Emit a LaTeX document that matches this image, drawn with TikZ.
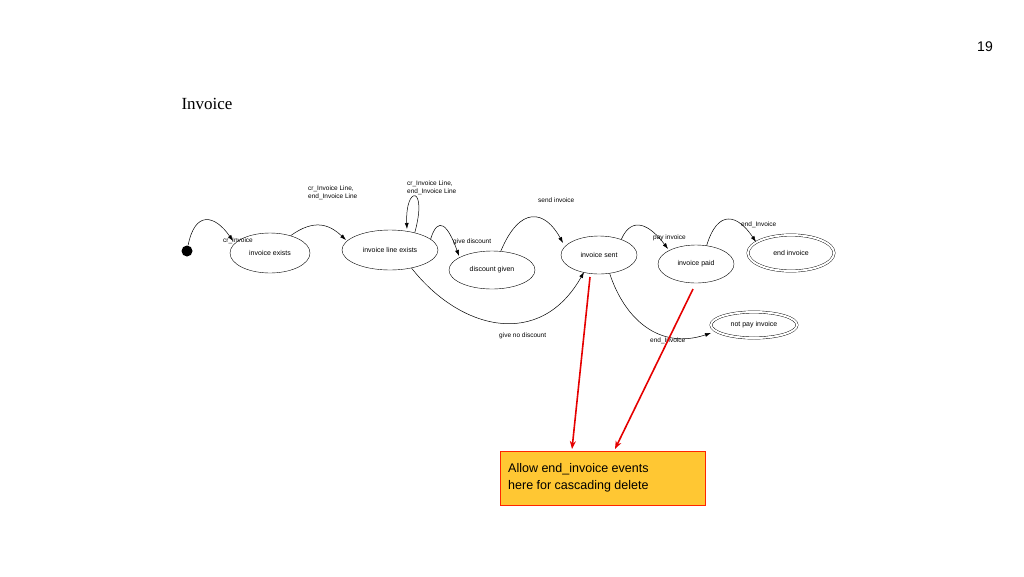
\documentclass[tikz,border=0pt]{standalone}
\usepackage{fontspec}
\setmainfont{Liberation Sans}
\newfontfamily\serifx{Liberation Serif}
\usetikzlibrary{arrows.meta,shapes.geometric}
\begin{document}
\begin{tikzpicture}[x=1pt,y=-1pt,
  st/.style={draw,ellipse,inner sep=0pt,font=\fontsize{7}{8}\selectfont},
  tr/.style={-{Latex[length=6pt,width=4pt]},line width=0.5pt},
  lb/.style={font=\fontsize{6.5}{8}\selectfont,align=left,anchor=west,inner sep=0pt},
  red/.style={-{Stealth[length=8pt,width=6pt]},draw=red!90!black,line width=1.6pt}]
\useasboundingbox (0,0) rectangle (1024,576);
\node[font=\fontsize{14}{16}\selectfont] (pg) at (985,47) {19};
\node[font=\serifx\fontsize{17}{20}\selectfont,anchor=west] (ttl) at (178,104) {Invoice};
\node[circle,fill,inner sep=0pt,minimum size=11pt] (s0) at (187,251) {};
\node[st,minimum width=80pt,minimum height=40pt] (ie) at (270,253) {invoice exists};
\node[st,minimum width=96pt,minimum height=40pt] (le) at (390,250) {invoice line exists};
\node[st,minimum width=86pt,minimum height=38pt] (dg) at (492,270) {discount given};
\node[st,minimum width=76pt,minimum height=38pt] (is) at (599,255) {invoice sent};
\node[st,minimum width=76pt,minimum height=38pt] (ip) at (696,264) {invoice paid};
\node[st,double,double distance=2pt,minimum width=86pt,minimum height=36pt] (ei) at (791,253) {end invoice};
\node[st,double,double distance=2pt,minimum width=86pt,minimum height=26pt] (np) at (754,325) {not pay invoice};
\draw[tr] (s0) .. controls (195,210) and (215,215) .. (233,241);
\node[lb] (l1) at (223,241) {cr\_Invoice};
\draw[tr] (ie.40) .. controls (315,218) and (330,225) .. (346,240);
\node[lb] (l2) at (308,193) {cr\_Invoice Line,\\end\_Invoice Line};
\draw[tr] (le.35) .. controls (428,185) and (405,185) .. (407,229);
\node[lb] (l3) at (407,188) {cr\_Invoice Line,\\end\_Invoice Line};
\draw[tr] (le.15) .. controls (438,215) and (448,225) .. (459,256);
\node[lb] (l4) at (453,242) {give discount};
\draw[tr] (dg.65) .. controls (520,205) and (545,210) .. (563,243);
\node[lb] (l5) at (538,200) {send invoice};
\draw[tr] (le.-40) .. controls (460,330) and (540,350) .. (584,272);
\node[lb] (l6) at (499,336) {give no discount};
\draw[tr] (is.35) .. controls (632,215) and (650,225) .. (668,249);
\node[lb] (l7) at (653,238) {pay invoice};
\draw[tr] (ip.60) .. controls (718,208) and (738,215) .. (756,242);
\node[lb] (l8) at (741,225) {end\_Invoice};
\draw[tr] (is.-60) .. controls (625,320) and (660,350) .. (711,333);
\node[lb] (l9) at (650,341) {end\_Invoice};
\node[draw=red!70!orange,fill=orange!55!yellow!80!white,minimum width=205pt,minimum height=54pt,inner sep=0pt] (box) at (602.5,478) {};
\node[anchor=west,align=left,font=\fontsize{12.5}{17}\selectfont,inner sep=0pt] (bt) at (508,478) {Allow end\_invoice events\\here for cascading delete};
\coordinate (b1) at (572,449);
\coordinate (b2) at (615,449);
\draw[red] (590,277) -- (b1);
\draw[red] (693,289) -- (b2);
\end{tikzpicture}
\end{document}
